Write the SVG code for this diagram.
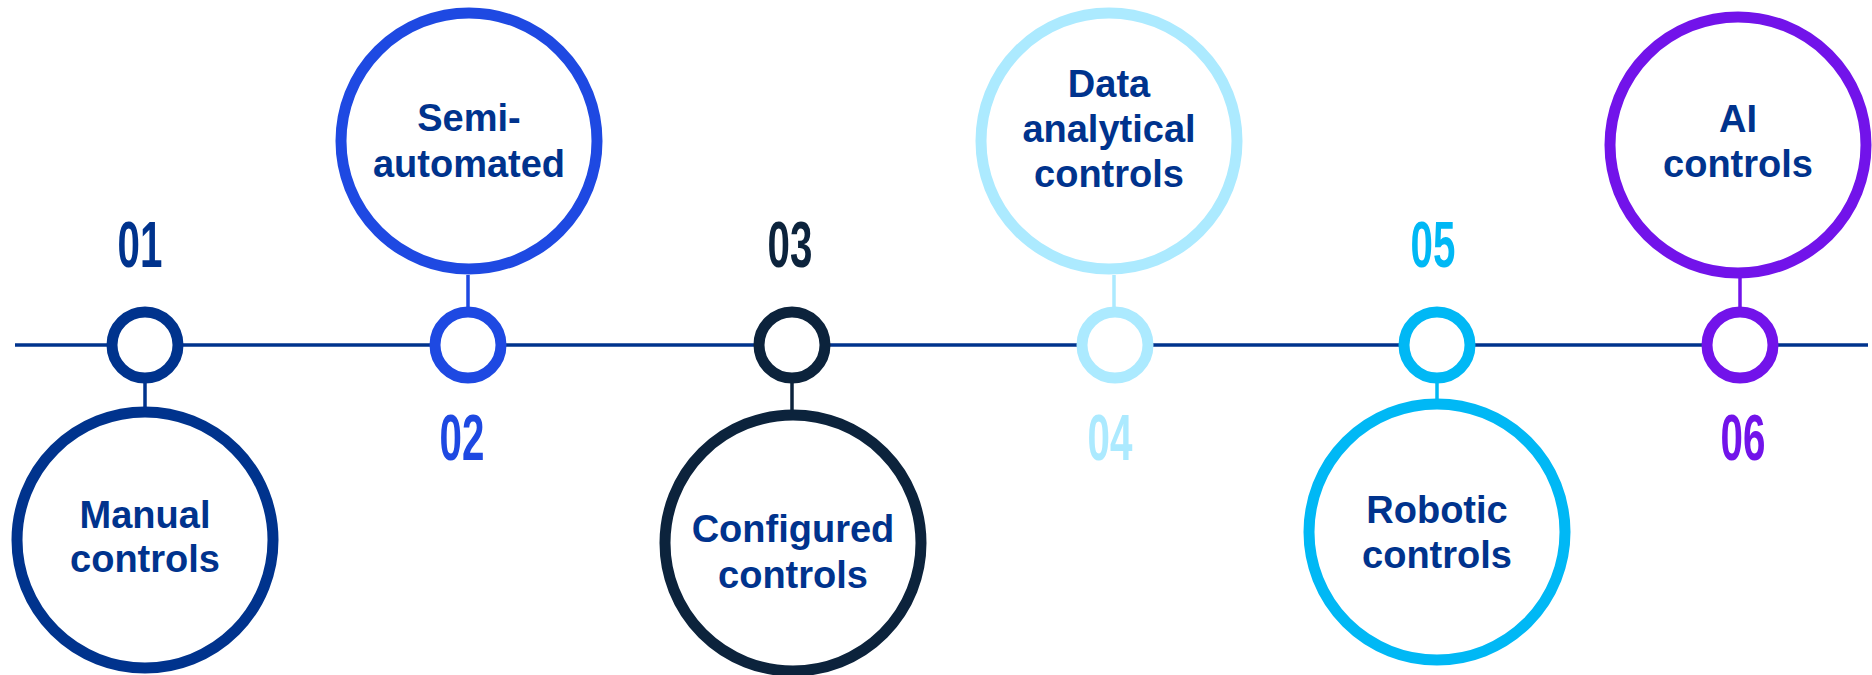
<svg xmlns="http://www.w3.org/2000/svg" width="1872" height="675" viewBox="0 0 1872 675">
<style>
.big{fill:#fff;stroke-width:11}
.small{fill:#fff;stroke-width:11}
.conn{stroke-width:3.5;fill:none}
.lbl{font-family:"Liberation Sans",Arial,sans-serif;font-weight:bold;font-size:38px;fill:#00338D;text-anchor:middle}
.num{font-family:"Liberation Sans",Arial,sans-serif;font-weight:bold;font-size:65px;text-anchor:middle}
</style>
<rect width="1872" height="675" fill="#fff"/>
<g id="connectors">
<line x1="15" y1="345" x2="1868" y2="345" stroke="#00338D" stroke-width="3.5"/>
<line class="conn" x1="145" y1="380" x2="145" y2="410" stroke="#00338D"/>
<line class="conn" x1="468" y1="275" x2="468" y2="310" stroke="#1E49E2"/>
<line class="conn" x1="792" y1="380" x2="792" y2="412" stroke="#0C233C"/>
<line class="conn" x1="1114" y1="275" x2="1114" y2="310" stroke="#ACEAFF"/>
<line class="conn" x1="1437" y1="380" x2="1437" y2="402" stroke="#00B8F5"/>
<line class="conn" x1="1740" y1="278" x2="1740" y2="310" stroke="#7213EA"/>
</g>
<g id="node1">
<circle class="small" cx="145" cy="345" r="33" stroke="#00338D"/>
<circle class="big" cx="145" cy="540" r="128" stroke="#00338D"/>
<text class="num" fill="#00338D" transform="translate(140,267) scale(0.62,1)">01</text>
<text class="lbl" x="145" y="528">Manual</text>
<text class="lbl" x="145" y="572">controls</text>
</g>
<g id="node2">
<circle class="small" cx="468" cy="345" r="33" stroke="#1E49E2"/>
<circle class="big" cx="469" cy="141" r="128" stroke="#1E49E2"/>
<text class="num" fill="#1E49E2" transform="translate(462,460) scale(0.62,1)">02</text>
<text class="lbl" x="469" y="131">Semi-</text>
<text class="lbl" x="469" y="177">automated</text>
</g>
<g id="node3">
<circle class="small" cx="792" cy="345" r="33" stroke="#0C233C"/>
<circle class="big" cx="793" cy="543" r="128" stroke="#0C233C"/>
<text class="num" fill="#0C233C" transform="translate(790,267) scale(0.62,1)">03</text>
<text class="lbl" x="793" y="542">Configured</text>
<text class="lbl" x="793" y="588">controls</text>
</g>
<g id="node4">
<circle class="small" cx="1115" cy="345" r="33" stroke="#ACEAFF"/>
<circle class="big" cx="1109" cy="141" r="128" stroke="#ACEAFF"/>
<text class="num" fill="#ACEAFF" transform="translate(1110,460) scale(0.62,1)">04</text>
<text class="lbl" x="1109" y="97">Data</text>
<text class="lbl" x="1109" y="142">analytical</text>
<text class="lbl" x="1109" y="187">controls</text>
</g>
<g id="node5">
<circle class="small" cx="1437" cy="345" r="33" stroke="#00B8F5"/>
<circle class="big" cx="1437" cy="532" r="128" stroke="#00B8F5"/>
<text class="num" fill="#00B8F5" transform="translate(1433,267) scale(0.62,1)">05</text>
<text class="lbl" x="1437" y="523">Robotic</text>
<text class="lbl" x="1437" y="568">controls</text>
</g>
<g id="node6">
<circle class="small" cx="1740" cy="345" r="33" stroke="#7213EA"/>
<circle class="big" cx="1738" cy="145" r="128" stroke="#7213EA"/>
<text class="num" fill="#7213EA" transform="translate(1743,460) scale(0.62,1)">06</text>
<text class="lbl" x="1738" y="132">AI</text>
<text class="lbl" x="1738" y="177">controls</text>
</g>
</svg>
